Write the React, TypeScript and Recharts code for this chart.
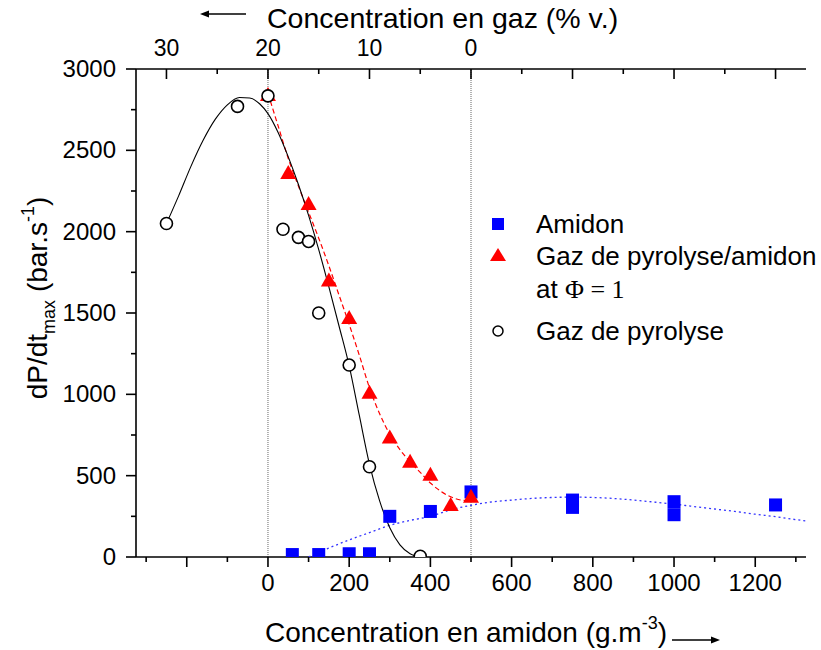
import React from 'react'
import { ScatterChart, Scatter, XAxis, YAxis, ReferenceLine } from 'recharts'

const FONT = '"Liberation Sans", Arial, sans-serif'

// measured points
const amidonX = [60, 125, 200, 250, 300, 400, 500, 750, 750, 1000, 1000, 1250]
const amidonY = [15, 15, 20, 20, 250, 280, 400, 350, 305, 340, 260, 320]

const mixX = [0, 50, 100, 150, 200, 250, 300, 350, 400, 450, 500]
const mixY = [2840, 2360, 2170, 1700, 1470, 1010, 735, 585, 505, 320, 370]

const gasX = [-250, -75, 0, 37, 75, 100, 125, 200, 250, 375]
const gasY = [2050, 2770, 2835, 2015, 1965, 1940, 1500, 1180, 555, 5]

// fitted curves
const gasFitX = [-250, -220, -190, -160, -130, -100, -70, -45, -20, 0, 25, 50, 75, 100, 125, 150, 175, 200, 225, 250, 275, 300, 325, 350, 375]
const gasFitY = [2050, 2220, 2400, 2560, 2690, 2780, 2825, 2822, 2785, 2726, 2610, 2460, 2290, 2100, 1890, 1660, 1420, 1175, 870, 570, 345, 180, 75, 20, 0]

const mixFitX = [0, 25, 50, 75, 100, 125, 150, 175, 200, 225, 250, 275, 300, 325, 350, 375, 400, 425, 450, 475, 500]
const mixFitY = [2850, 2650, 2450, 2280, 2120, 1960, 1790, 1610, 1430, 1240, 1040, 880, 755, 660, 585, 520, 455, 405, 370, 350, 345]

const amidonFitX = [100, 150, 200, 250, 300, 350, 400, 450, 500, 550, 600, 650, 700, 750, 800, 850, 900, 950, 1000, 1050, 1100, 1150, 1200, 1250, 1300, 1325]
const amidonFitY = [0, 55, 105, 150, 195, 225, 250, 290, 318, 338, 350, 360, 366, 368, 366, 360, 350, 338, 325, 310, 295, 280, 263, 248, 230, 222]

// axis ticks
const xTicks = [-300, -200, -100, 0, 100, 200, 300, 400, 500, 600, 700, 800, 900, 1000, 1100, 1200, 1300]
const gazTicks = [30, 25, 20, 15, 10, 5, 0, -5, -10, -15, -20, -25, -30]
const gazLabels = [30, 20, 10, 0]
const yTicks = [0, 250, 500, 750, 1000, 1250, 1500, 1750, 2000, 2250, 2500, 2750, 3000]

const pts = (xs: number[], ys: number[]) => xs.map((x, i) => ({ x, y: ys[i] }))

const Blank = () => <g />

const SquareDot = (p: any) => <rect x={p.cx - 6.5} y={p.cy - 6.5} width={13} height={13} fill="#0000ff" />
const TriDot = (p: any) => (
  <polygon points={`${p.cx},${p.cy - 8} ${p.cx - 8},${p.cy + 6} ${p.cx + 8},${p.cy + 6}`} fill="#ff0000" />
)
const CircleDot = (p: any) => <circle cx={p.cx} cy={p.cy} r={6} fill="#fff" stroke="#000" strokeWidth={1.6} />

function BottomTick({ x, y, payload }: any) {
  const v = payload.value
  const major = v % 200 === 0
  return (
    <g>
      <line x1={x} x2={x} y1={y} y2={y + (major ? 10 : 5)} stroke="#000" strokeWidth={1.6} />
      {major && v >= 0 && (
        <text x={x} y={y + 34} textAnchor="middle" fontSize={24} fontFamily={FONT} fill="#000">
          {v}
        </text>
      )}
    </g>
  )
}

function TopTick({ x, y, payload }: any) {
  const v = payload.value
  const major = v % 10 === 0
  return (
    <g>
      <line x1={x} x2={x} y1={y} y2={y + (major ? 10 : 5)} stroke="#000" strokeWidth={1.6} />
      {gazLabels.includes(v) && (
        <text x={x} y={y - 13} textAnchor="middle" fontSize={23} fontFamily={FONT} fill="#000">
          {v}
        </text>
      )}
    </g>
  )
}

function LeftTick({ x, y, payload }: any) {
  const v = payload.value
  const major = v % 500 === 0
  return (
    <g>
      <line x1={x - (major ? 10 : 5)} x2={x} y1={y} y2={y} stroke="#000" strokeWidth={1.6} />
      {major && (
        <text x={x - 20} y={y + 8} textAnchor="end" fontSize={24} fontFamily={FONT} fill="#000">
          {v}
        </text>
      )}
    </g>
  )
}

export default function App() {
  return (
    <div style={{ position: 'absolute', left: 0, top: 0, width: 821, height: 650, background: '#fff' }}>
      <ScatterChart width={821} height={650} margin={{ top: 9, right: 15, bottom: 33, left: 36 }}>
        <XAxis
          xAxisId="bottom"
          dataKey="x"
          type="number"
          domain={[-325, 1325]}
          allowDataOverflow
          ticks={xTicks}
          interval={0}
          height={60}
          tickSize={0}
          tickMargin={0}
          tickLine={false}
          tick={<BottomTick />}
          axisLine={{ stroke: '#000', strokeWidth: 1.6 }}
        />
        <XAxis
          xAxisId="top"
          dataKey="x"
          orientation="top"
          type="number"
          domain={[-33, 33]}
          reversed
          allowDataOverflow
          ticks={gazTicks}
          interval={0}
          height={60}
          tickSize={0}
          tickMargin={0}
          tickLine={false}
          tick={<TopTick />}
          axisLine={{ stroke: '#000', strokeWidth: 1.6 }}
        />
        <YAxis
          dataKey="y"
          type="number"
          domain={[0, 3000]}
          allowDataOverflow
          ticks={yTicks}
          interval={0}
          width={100}
          tickSize={0}
          tickMargin={0}
          tickLine={false}
          tick={<LeftTick />}
          axisLine={{ stroke: '#000', strokeWidth: 1.6 }}
        />
        <ReferenceLine xAxisId="bottom" x={0} stroke="#666" strokeWidth={1} strokeDasharray="1 1" />
        <ReferenceLine xAxisId="bottom" x={500} stroke="#666" strokeWidth={1} strokeDasharray="1 1" />

        {/* invisible anchor so the gas % axis gets its scale */}
        <Scatter xAxisId="top" data={gazTicks.map((g) => ({ x: g, y: 0 }))} shape={Blank} isAnimationActive={false} />

        <Scatter
          xAxisId="bottom"
          data={pts(amidonFitX, amidonFitY)}
          shape={Blank}
          line={{ stroke: '#3333ff', strokeWidth: 1.3, strokeDasharray: '2 3' }}
          lineJointType="monotoneX"
          isAnimationActive={false}
        />
        <Scatter
          xAxisId="bottom"
          data={pts(mixFitX, mixFitY)}
          shape={Blank}
          line={{ stroke: '#ff0000', strokeWidth: 1.2, strokeDasharray: '5 3' }}
          lineJointType="monotoneX"
          isAnimationActive={false}
        />
        <Scatter
          xAxisId="bottom"
          data={pts(gasFitX, gasFitY)}
          shape={Blank}
          line={{ stroke: '#000', strokeWidth: 1.1 }}
          lineJointType="monotoneX"
          isAnimationActive={false}
        />

        <Scatter xAxisId="bottom" data={pts(amidonX, amidonY)} shape={SquareDot} isAnimationActive={false} />
        <Scatter xAxisId="bottom" data={pts(mixX, mixY)} shape={TriDot} isAnimationActive={false} />
        <Scatter xAxisId="bottom" data={pts(gasX, gasY)} shape={CircleDot} isAnimationActive={false} />
      </ScatterChart>

      {/* titles, arrows and legend */}
      <svg width={821} height={650} style={{ position: 'absolute', left: 0, top: 0, pointerEvents: 'none' }}>
        <g fontFamily={FONT} fill="#000">
          <text x={267} y={28} fontSize={28.5}>Concentration en gaz (% v.)</text>
          <line x1={246} x2={207} y1={14} y2={14} stroke="#000" strokeWidth={1.4} />
          <polygon points="200,14 209,10.5 209,17.5" fill="#000" />

          <text x={265} y={642} fontSize={28}>
            Concentration en amidon (g.m
            <tspan fontSize={18} dy={-13}>-3</tspan>
            <tspan dy={13}>)</tspan>
          </text>
          <line x1={672} x2={712} y1={640} y2={640} stroke="#000" strokeWidth={1.4} />
          <polygon points="720,640 711,636.5 711,643.5" fill="#000" />

          <text transform="translate(47, 298) rotate(-90)" textAnchor="middle" fontSize={28}>
            dP/dt
            <tspan fontSize={18} dy={8}>max</tspan>
            <tspan dy={-8}> (bar.s</tspan>
            <tspan fontSize={18} dy={-13}>-1</tspan>
            <tspan dy={13}>)</tspan>
          </text>

          <rect x={492} y={218} width={12} height={12} fill="#0000ff" />
          <text x={536} y={233} fontSize={26}>Amidon</text>
          <polygon points="498,248 490,261 506,261" fill="#ff0000" />
          <text x={536} y={265} fontSize={26}>Gaz de pyrolyse/amidon</text>
          <text x={536} y={298} fontSize={26}>
            at <tspan fontFamily='"Liberation Serif", "Times New Roman", serif'>Φ = 1</tspan>
          </text>
          <circle cx={498} cy={331} r={5} fill="none" stroke="#000" strokeWidth={1.5} />
          <text x={536} y={340} fontSize={26}>Gaz de pyrolyse</text>
        </g>
      </svg>
    </div>
  )
}
